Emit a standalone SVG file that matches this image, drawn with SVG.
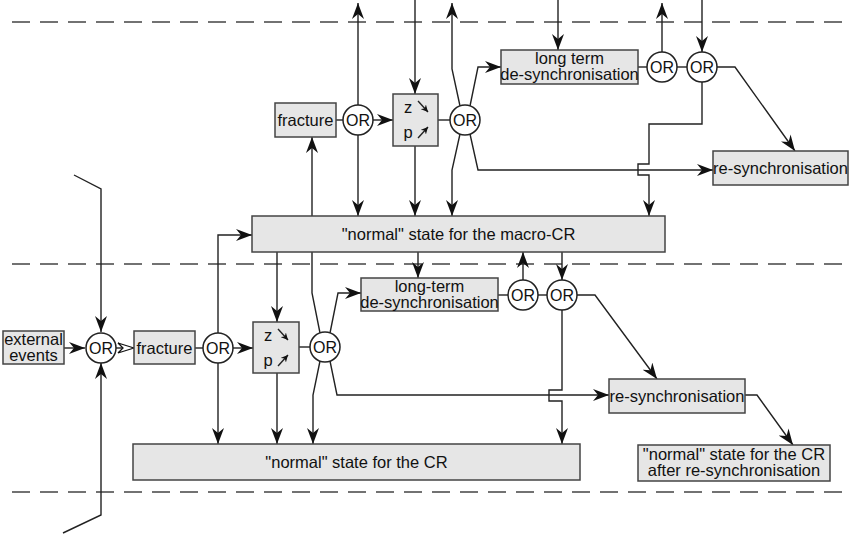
<svg xmlns="http://www.w3.org/2000/svg" width="852" height="536" viewBox="0 0 852 536">
<defs>
<marker id="ah" viewBox="0 0 16 12" refX="16" refY="6" markerWidth="17" markerHeight="12" markerUnits="userSpaceOnUse" orient="auto">
<path d="M0,0 L16,6 L0,12 L5,6 z" fill="#111"/>
</marker>
<marker id="oa" viewBox="0 0 18 14" refX="17" refY="7" markerWidth="18" markerHeight="14" markerUnits="userSpaceOnUse" orient="auto">
<path d="M1,2 L17,7 L1,12 L6,7 z" fill="#fff" stroke="#111" stroke-width="1.3"/>
</marker>
<marker id="sa" viewBox="0 0 8 8" refX="8" refY="4" markerWidth="7" markerHeight="7" markerUnits="userSpaceOnUse" orient="auto">
<path d="M0,0 L8,4 L0,8 L2.5,4 z" fill="#111"/>
</marker>
</defs>
<style>
.box{fill:#e6e6e6;stroke:#444;stroke-width:1.5}
.or{fill:#fff;stroke:#222;stroke-width:1.5}
.t{font-family:"Liberation Sans",Arial,sans-serif;font-size:16.5px;fill:#111;text-anchor:middle}
.ot{font-family:"Liberation Sans",Arial,sans-serif;font-size:16px;fill:#111;text-anchor:middle}
.c{fill:none;stroke:#222;stroke-width:1.4}
.a{marker-end:url(#ah)}
.dash{stroke:#444;stroke-width:1.4;stroke-dasharray:18,10;fill:none}
</style>
<g id="separators">
<path class="dash" d="M12,22 H842"/>
<path class="dash" d="M12,264 H842"/>
<path class="dash" d="M12,492 H842"/>
</g>
<g id="connectors">
<path class="c a" d="M358,105 V3"/>
<path class="c a" d="M358,135 V216"/>
<path class="c a" d="M415,0 V94"/>
<path class="c a" d="M415,146 V216"/>
<path class="c a" d="M460,106 L452,69 V3"/>
<path class="c a" d="M470,106 L478,67 H501"/>
<path class="c a" d="M460,134 L452,170 V216"/>
<path class="c a" d="M470,134 L478,170 H713"/>
<path class="c" d="M336,120 H343"/>
<path class="c a" d="M373,120 H393"/>
<path class="c" d="M438,120 H450"/>
<path class="c a" d="M312,216 V137"/>
<path class="c a" d="M558,0 V50"/>
<path class="c" d="M638,67 H647"/>
<path class="c" d="M677,67 H687"/>
<path class="c a" d="M662,52 V3"/>
<path class="c a" d="M702,0 V52"/>
<path class="c a" d="M717,67 H735 L795,151"/>
<path class="c a" d="M702,82 V124 H649 V164 H638 V175 H649 V216"/>
<path class="c a" d="M74,175 L101,189 V332"/>
<path class="c a" d="M63,533 L101,515 V363"/>
<path class="c a" d="M64,348 H85"/>
<path class="c" d="M116,348 H134" marker-end="url(#oa)"/>
<path class="c" d="M195,348 H203"/>
<path class="c a" d="M233,348 H253"/>
<path class="c" d="M299,347 H310"/>
<path class="c a" d="M218,333 V235 H252"/>
<path class="c a" d="M218,363 V444"/>
<path class="c a" d="M277,252 V322"/>
<path class="c a" d="M277,373 V444"/>
<path class="c" d="M312,252 V293 L320,333"/>
<path class="c a" d="M330,333 L338,293 H361"/>
<path class="c a" d="M320,361 L313,395 V444"/>
<path class="c a" d="M330,361 L337,395 H609"/>
<path class="c a" d="M418,252 V278"/>
<path class="c" d="M498,295 H508"/>
<path class="c" d="M538,295 H547"/>
<path class="c a" d="M523,280 V252"/>
<path class="c a" d="M562,252 V280"/>
<path class="c a" d="M577,295 H595 L657,379"/>
<path class="c a" d="M562,310 V390 H549 V401 H562 V444"/>
<path class="c a" d="M745,395 H757 L793,445"/>
</g>
<g id="fracture-upper"><rect class="box" x="275" y="103" width="61" height="34"/><text class="t" x="305.5" y="126">fracture</text></g>
<g id="or-u1"><circle class="or" cx="358" cy="120" r="15"/><text class="ot" x="358" y="125.8">OR</text></g>
<g id="zp-upper"><rect class="box" x="393" y="94" width="45" height="52"/>
<text class="t" x="408" y="113">z</text><text class="t" x="408" y="138">p</text>
<path class="c" d="M418,101 L428,112" marker-end="url(#sa)"/><path class="c" d="M418,138 L428,127" marker-end="url(#sa)"/></g>
<g id="or-u2"><circle class="or" cx="465" cy="120" r="15"/><text class="ot" x="465" y="125.8">OR</text></g>
<g id="ltd-upper"><rect class="box" x="501" y="50" width="137" height="34"/><text class="t" x="569.5" y="64">long term</text><text class="t" x="569.5" y="80">de-synchronisation</text></g>
<g id="or-u3"><circle class="or" cx="662" cy="67" r="15"/><text class="ot" x="662" y="72.8">OR</text></g>
<g id="or-u4"><circle class="or" cx="702" cy="67" r="15"/><text class="ot" x="702" y="72.8">OR</text></g>
<g id="resync-upper"><rect class="box" x="713" y="151" width="135" height="34"/><text class="t" x="780.5" y="174">re-synchronisation</text></g>
<g id="macro-normal"><rect class="box" x="252" y="216" width="413" height="36"/><text class="t" x="458.5" y="240">"normal" state for the macro-CR</text></g>
<g id="external"><rect class="box" x="3" y="331" width="61" height="33"/><text class="t" x="33.5" y="345">external</text><text class="t" x="33.5" y="360.5">events</text></g>
<g id="or-l1"><circle class="or" cx="101" cy="348" r="15"/><text class="ot" x="101" y="353.8">OR</text></g>
<g id="fracture-lower"><rect class="box" x="134" y="331" width="61" height="33"/><text class="t" x="164.5" y="353.5">fracture</text></g>
<g id="or-l2"><circle class="or" cx="218" cy="348" r="15"/><text class="ot" x="218" y="353.8">OR</text></g>
<g id="zp-lower"><rect class="box" x="253" y="322" width="46" height="51"/>
<text class="t" x="268" y="341">z</text><text class="t" x="268" y="366">p</text>
<path class="c" d="M278,329 L288,340" marker-end="url(#sa)"/><path class="c" d="M278,366 L288,355" marker-end="url(#sa)"/></g>
<g id="or-l3"><circle class="or" cx="325" cy="347" r="15"/><text class="ot" x="325" y="352.8">OR</text></g>
<g id="ltd-lower"><rect class="box" x="361" y="278" width="137" height="33"/><text class="t" x="429.5" y="292">long-term</text><text class="t" x="429.5" y="307.5">de-synchronisation</text></g>
<g id="or-l4"><circle class="or" cx="523" cy="295" r="15"/><text class="ot" x="523" y="300.8">OR</text></g>
<g id="or-l5"><circle class="or" cx="562" cy="295" r="15"/><text class="ot" x="562" y="300.8">OR</text></g>
<g id="resync-lower"><rect class="box" x="609" y="379" width="136" height="34"/><text class="t" x="677" y="402">re-synchronisation</text></g>
<g id="cr-normal"><rect class="box" x="133" y="444" width="447" height="36"/><text class="t" x="356.5" y="468">"normal" state for the CR</text></g>
<g id="cr-after"><rect class="box" x="638" y="445" width="192" height="36"/><text class="t" x="734" y="460">"normal" state for the CR</text><text class="t" x="734" y="476">after re-synchronisation</text></g>
</svg>
